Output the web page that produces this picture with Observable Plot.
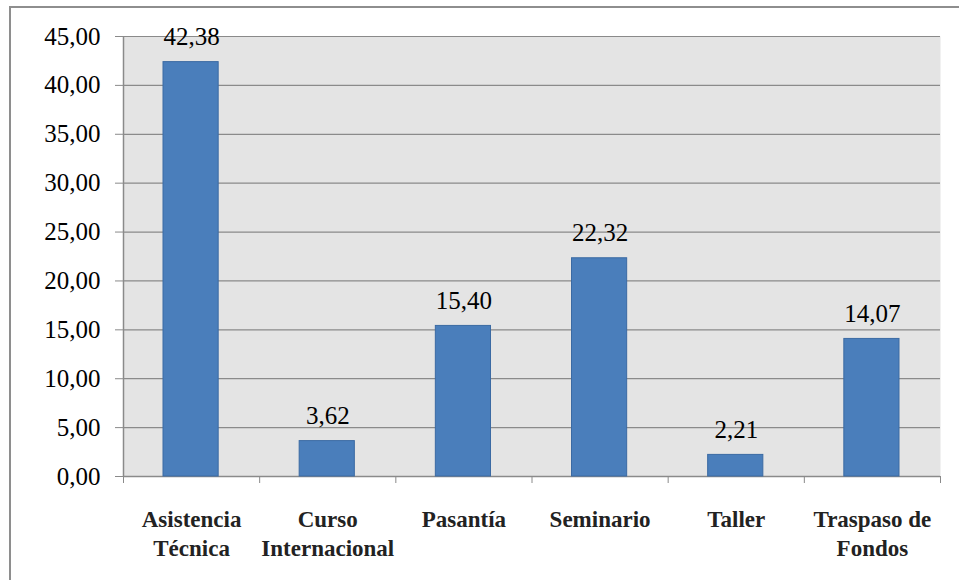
<!DOCTYPE html>
<html>
<head>
<meta charset="utf-8">
<script src="https://cdn.jsdelivr.net/npm/d3@7"></script>
<script src="https://cdn.jsdelivr.net/npm/@observablehq/plot@0.6"></script>
<style>
  html, body { margin: 0; padding: 0; background: #fff; overflow: hidden; }
  #wrap { position: relative; width: 959px; height: 580px; overflow: hidden; }
  #wrap svg text, #wrap svg tspan, #wrap svg g { font-family: "Liberation Serif", "DejaVu Serif", "Times New Roman", Times, serif !important; }
  #border { position: absolute; left: 9px; top: 6px; width: 960px; height: 620px;
            border: 2px solid #8e8e8e; box-sizing: border-box; pointer-events: none; }
</style>
</head>
<body>
<div id="wrap"><div id="border"></div></div>
<script>
const categories = ["Asistencia\nTécnica", "Curso\nInternacional", "Pasantía", "Seminario", "Taller", "Traspaso de\nFondos"];
const values = [42.38, 3.62, 15.40, 22.32, 2.21, 14.07];
const yTicks = [0, 5, 10, 15, 20, 25, 30, 35, 40, 45];

const fmt = d => d.toFixed(2).replace(".", ",");
const data = categories.map((c, i) => ({category: c, value: values[i], i}));
const serif = "Liberation Serif, DejaVu Serif, Times New Roman, serif";

const chart = Plot.plot({
  width: 959,
  height: 580,
  marginLeft: 123,
  marginRight: 19,
  marginTop: 36,
  marginBottom: 104,
  style: {background: "transparent", color: "#000", overflow: "visible", fontFamily: serif},
  x: {domain: [0, categories.length], axis: null},
  y: {domain: [0, 45], axis: null},
  marks: [
    Plot.frame({fill: "#e4e4e4", stroke: null}),
    Plot.gridY(yTicks, {stroke: "#8a8a8a", strokeOpacity: 1, strokeWidth: 1.2}),
    Plot.axisY(yTicks, {label: null, tickSize: 8, tickPadding: 15, tickFormat: fmt, fontSize: 25, fontFamily: serif, stroke: "#8a8a8a", fill: "#000"}),
    Plot.axisX(d3.range(categories.length + 1), {label: null, anchor: "bottom", tickSize: 7, tickFormat: () => "", stroke: "#8a8a8a"}),
    Plot.ruleX([0], {stroke: "#8a8a8a", strokeWidth: 1.5}),
    Plot.ruleY([0], {stroke: "#8a8a8a", strokeWidth: 1.5}),
    Plot.rectY(data, {x1: d => d.i, x2: d => d.i + 1, y: "value", insetLeft: 40, insetRight: 41,
      fill: "#4a7ebb", stroke: "#3b6aa3", strokeWidth: 1}),
    Plot.text(data, {x: d => d.i + 0.5, y: "value", text: d => fmt(d.value), dy: -17, lineAnchor: "bottom",
      fontSize: 25, fontFamily: serif, fill: "#000"}),
    Plot.text(data, {x: d => d.i + 0.5, frameAnchor: "bottom", text: "category", lineAnchor: "top", dy: 30,
      fontSize: 23, fontFamily: serif, fontWeight: "bold", lineHeight: 1.26, fill: "#222"})
  ]
});
document.getElementById("wrap").insertBefore(chart, document.getElementById("border"));
</script>
</body>
</html>
